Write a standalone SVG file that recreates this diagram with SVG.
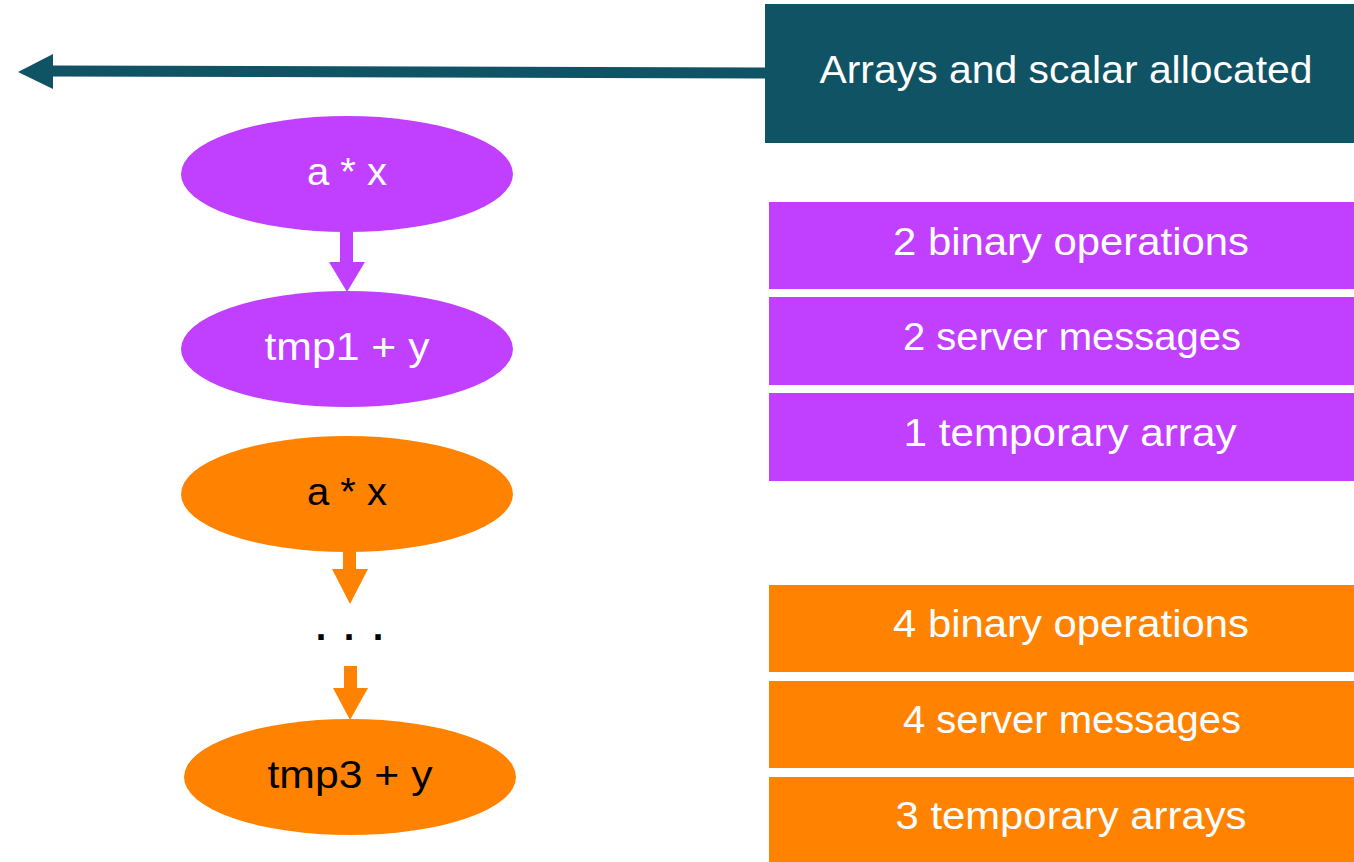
<svg xmlns="http://www.w3.org/2000/svg" width="1354" height="862" viewBox="0 0 1354 862">
<style>
text{font-family:"Liberation Sans","DejaVu Sans",sans-serif;font-size:38px;text-anchor:middle}
.w{fill:#ffffff}
.k{fill:#000000}
.pu{fill:#C140FF}
.or{fill:#FF8300}
.te{fill:#0F5365}
</style>
<rect width="1354" height="862" fill="#ffffff"/>
<g id="connectors">
<line x1="766" y1="73" x2="50" y2="71" stroke="#0F5365" stroke-width="11"/>
<polygon class="te" points="18,72 53,54 53,89"/>
<rect class="pu" x="340" y="228" width="13" height="36"/>
<polygon class="pu" points="329,262 365,262 347,292"/>
<rect class="or" x="343" y="548" width="13" height="23"/>
<polygon class="or" points="332,569 368,569 350,604"/>
<rect class="or" x="344" y="666" width="13" height="24"/>
<polygon class="or" points="333,688 368,688 350,720"/>
</g>
<g id="allocated">
<rect class="te" x="765" y="4" width="589" height="139"/>
<text class="w" x="1066" y="83" textLength="493" lengthAdjust="spacingAndGlyphs">Arrays and scalar allocated</text>
</g>
<g id="p-ax">
<ellipse class="pu" cx="347" cy="174" rx="166" ry="58"/>
<text class="w" x="347" y="185" textLength="80" lengthAdjust="spacingAndGlyphs">a * x</text>
</g>
<g id="p-tmp1">
<ellipse class="pu" cx="347" cy="349" rx="166" ry="58"/>
<text class="w" x="347" y="360" textLength="165" lengthAdjust="spacingAndGlyphs">tmp1 + y</text>
</g>
<g id="o-ax">
<ellipse class="or" cx="347" cy="494" rx="166" ry="58"/>
<text class="k" x="347" y="505" textLength="80" lengthAdjust="spacingAndGlyphs">a * x</text>
</g>
<g id="dots">
<text class="k" x="321 349 378" y="640" font-size="60" font-weight="bold">...</text>
</g>
<g id="o-tmp3">
<ellipse class="or" cx="350" cy="777" rx="166" ry="58"/>
<text class="k" x="350" y="788" textLength="165" lengthAdjust="spacingAndGlyphs">tmp3 + y</text>
</g>
<g id="p-ops">
<rect class="pu" x="769" y="202" width="585" height="87"/>
<text class="w" x="1071" y="255" textLength="356" lengthAdjust="spacingAndGlyphs">2 binary operations</text>
</g>
<g id="p-msg">
<rect class="pu" x="769" y="297" width="585" height="88"/>
<text class="w" x="1072" y="350" textLength="338" lengthAdjust="spacingAndGlyphs">2 server messages</text>
</g>
<g id="p-tmp">
<rect class="pu" x="769" y="393" width="585" height="88"/>
<text class="w" x="1070" y="446" textLength="333" lengthAdjust="spacingAndGlyphs">1 temporary array</text>
</g>
<g id="o-ops">
<rect class="or" x="769" y="585" width="585" height="87"/>
<text class="w" x="1071" y="637" textLength="356" lengthAdjust="spacingAndGlyphs">4 binary operations</text>
</g>
<g id="o-msg">
<rect class="or" x="769" y="681" width="585" height="87"/>
<text class="w" x="1072" y="733" textLength="338" lengthAdjust="spacingAndGlyphs">4 server messages</text>
</g>
<g id="o-tmp">
<rect class="or" x="769" y="777" width="585" height="85"/>
<text class="w" x="1071" y="829" textLength="351" lengthAdjust="spacingAndGlyphs">3 temporary arrays</text>
</g>
</svg>
